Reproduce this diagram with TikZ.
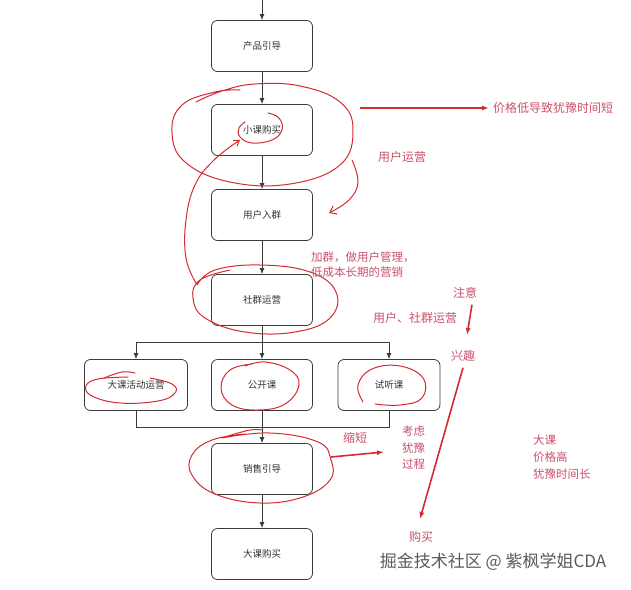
\documentclass[tikz,border=0pt]{standalone}
\usepackage{fontspec}
\setmainfont{Noto Sans CJK SC}
\usetikzlibrary{arrows.meta}
\usetikzlibrary{positioning}
\definecolor{fl-text}{HTML}{333333}
\definecolor{fl-line}{HTML}{3A3A3A}
\definecolor{fl-mark}{HTML}{D42A30}
\definecolor{fl-note}{HTML}{C9506A}
\definecolor{fl-wm}{HTML}{5A5A5A}

\tikzset{
    stepbox/.style={draw=fl-line, line width=0.8pt, rounded corners=6pt, minimum width=101pt,
        minimum height=51pt, text=fl-text, font=\fontsize{9.5}{11}\selectfont},
    flow/.style={fl-line, line width=0.8pt},
    pen/.style={fl-mark, line width=1pt, line cap=round},
    penarrow/.style={fl-mark, line width=1.6pt, -{Latex[length=7pt,width=5pt]}},
    note/.style={text=fl-note, font=\fontsize{12}{14}\selectfont, inner sep=0pt},
}

\begin{document}
\begin{tikzpicture}[x=1pt, y=-1pt, >={Latex[length=6pt,width=5pt]}]
    \useasboundingbox (0,0) rectangle (631,589);

    % --- FLUXO PRINCIPAL ---
    \coordinate (start) at (262,0);
    \node[stepbox] (guide) at (262,46) {产品引导};
    \node[stepbox] (small) at (262,130) {小课购买};
    \node[stepbox] (join) at (262,215) {用户入群};
    \node[stepbox] (group) at (262,300) {社群运营};
    \node[stepbox, minimum width=103pt] (promo) at (136,385) {大课活动运营};
    \node[stepbox] (open) at (262,385) {公开课};
    \node[stepbox, minimum width=102pt] (trial) at (389,385) {试听课};
    \node[stepbox] (sales) at (262,469) {销售引导};
    \node[stepbox] (buy) at (262,554) {大课购买};

    \draw[flow, ->] (start) -- (guide);
    \draw[flow, ->] (guide) -- (small);
    \draw[flow, ->] (small) -- (join);
    \draw[flow, ->] (join) -- (group);

    % ramificacao e juncao
    \coordinate (split) at (262,342);
    \coordinate (merge) at (262,427);
    \draw[flow] (group) -- (split);
    \draw[flow, ->] (split) -- (open);
    \draw[flow, ->] (split) -| (promo.north);
    \draw[flow, ->] (split) -| (trial.north);
    \draw[flow] (promo.south) |- (merge);
    \draw[flow] (trial.south) |- (merge);
    \draw[flow] (open) -- (merge);
    \draw[flow, ->] (merge) -- (sales);
    \draw[flow, ->] (sales) -- (buy);

    % --- MARCACOES A MAO ---
    \draw[pen] plot[smooth, tension=0.7] coordinates {(196,102) (222,91) (255,84) (300,86) (340,102)
        (353,130) (340,165) (290,184) (230,182) (185,162) (172,132) (182,105) (215,92) (240,90)};
    \draw[pen] plot[smooth, tension=0.7] coordinates {(268,113) (279,118) (282,130) (272,140)
        (252,143) (240,137) (239,128) (245,122)};
    \draw[pen, -{Straight Barb[length=5pt,width=7pt]}] plot[smooth, tension=0.7] coordinates {(196,283)
        (186,258) (186,220) (195,185) (214,160) (240,140)};
    \draw[pen, -{Straight Barb[length=6pt,width=9pt]}] plot[smooth, tension=0.7] coordinates {(352,160)
        (358,182) (349,200) (329,213)};
    \draw[pen] plot[smooth, tension=0.7] coordinates {(197,285) (215,270) (260,265) (310,272)
        (336,292) (330,318) (295,332) (245,332) (205,318) (193,298) (200,280) (230,270)};

    \draw[pen] plot[smooth, tension=0.7] coordinates {(104,378) (122,372) (135,373)};
    \draw[pen] plot[smooth, tension=0.7] coordinates {(150,378) (172,384) (175,393) (158,401)
        (120,403) (92,396) (86,386) (98,379) (128,377)};
    \draw[pen] plot[smooth, tension=0.7] coordinates {(245,366) (265,362) (290,370) (299,385)
        (285,404) (258,410) (232,405) (221,388) (230,370) (252,364)};
    \draw[pen] plot[smooth, tension=0.7] coordinates {(363,402) (358,385) (372,369) (400,366)
        (423,378) (422,398) (400,405) (375,404)};
    \draw[pen] plot[smooth, tension=0.7] coordinates {(228,436) (250,430) (262,430)};
    \draw[pen] plot[smooth, tension=0.7] coordinates {(222,438) (270,433) (318,442) (331,460)
        (330,480) (303,497) (260,503) (215,494) (192,475) (192,455) (212,440) (245,434)};

    % --- SETAS E NOTAS ---
    \coordinate (cheapFrom) at (360,108);
    \node[note, anchor=west] (cheap) at (493,108) {价格低导致犹豫时间短};
    \draw[penarrow, shorten >=4pt] (cheapFrom) -- (cheap.west);
    \node[note] (userOps) at (402,157) {用户运营};
    \node[note, anchor=west, align=left, font=\fontsize{11.5}{15}\selectfont] (manage) at (311,265) {加群，做用户管理，\\低成本长期的营销};

    \node[note] (attention) at (465,293) {注意};
    \node[note] (ops) at (415,318) {用户、社群运营};
    \node[note] (interest) at (463,356) {兴趣};
    \node[note] (purchase) at (421,537) {购买};
    \coordinate (attentionEnd) at (467,335);
    \coordinate (purchaseEnd) at (420,519);
    \draw[penarrow] (attention.south) ++(7,6) -- (attentionEnd);
    \draw[penarrow] (interest.south) ++(0,6) -- (purchaseEnd);

    \node[note] (shorten) at (355,438) {缩短};
    \node[note, align=left, anchor=north west, font=\fontsize{11.5}{16.5}\selectfont] (consider) at (402,426) {考虑\\犹豫\\过程};
    \coordinate (salesEdge) at (331,457);
    \draw[penarrow] (salesEdge) -- (384,452);

    \node[note, align=left, anchor=north west, font=\fontsize{11.5}{17}\selectfont] (bigCourse) at (533,435) {大课\\价格高\\犹豫时间长};

    % marca d'agua
    \node[text=fl-wm, font=\fontsize{17}{19}\selectfont, inner sep=0pt] (wm) at (493,562) {掘金技术社区 @ 紫枫学姐CDA};

\end{tikzpicture}
\end{document}
